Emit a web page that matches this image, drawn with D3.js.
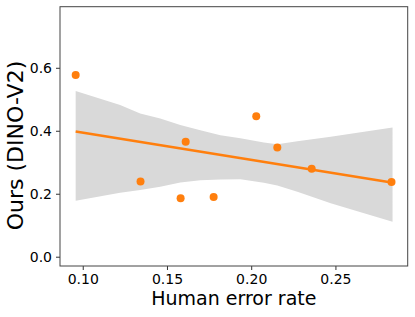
<!DOCTYPE html>
<html lang="en">
<head>
    <meta charset="UTF-8">
    <title>regplot</title>
    <script src="https://d3js.org/d3.v7.min.js"></script>
    <style>
        body { margin: 0; background: white; }
        svg { display: block; }
        text { font-family: "DejaVu Sans", sans-serif; fill: #000; }
    </style>
</head>
<body>
    <svg></svg>
    <script>
        // Data
        var errorRate = [0.0958, 0.1611, 0.2030, 0.2155, 0.1343, 0.1581, 0.1777, 0.2359, 0.2833];
        var oursScore = [0.577, 0.365, 0.446, 0.347, 0.239, 0.186, 0.190, 0.279, 0.237];

        // Fitted line ends and confidence band edges
        var fitX = [0.0958, 0.2833];
        var fitY = [0.398, 0.236];
        var bandX  = [0.0958, 0.1222, 0.1341, 0.1460, 0.1579, 0.1698, 0.1817, 0.1936, 0.2075, 0.2155, 0.2274, 0.2472, 0.2670, 0.2839];
        var bandHi = [0.526, 0.482, 0.455, 0.439, 0.418, 0.402, 0.386, 0.376, 0.363, 0.357, 0.367, 0.381, 0.397, 0.410];
        var bandLo = [0.178, 0.203, 0.212, 0.222, 0.236, 0.243, 0.245, 0.246, 0.235, 0.226, 0.206, 0.170, 0.138, 0.111];

        var xTicks = [0.10, 0.15, 0.20, 0.25];
        var yTicks = [0.0, 0.2, 0.4, 0.6];

        var width = 415, height = 317;
        var svg = d3.select("svg").attr("width", width).attr("height", height);

        // plot area box
        var pl = 60, pr = 407.7, pt = 6.7, pb = 266;
        var x = d3.scaleLinear().domain([0.0865, 0.2929]).range([pl, pr]);
        var y = d3.scaleLinear().domain([-0.0295, 0.794]).range([pb, pt]);
        var orange = "#ff7f0e";

        // Confidence band
        var band = bandX.map(function(v, i) { return {x: v, lo: bandLo[i], hi: bandHi[i]}; });
        svg.append("path")
            .datum(band)
            .attr("fill", "#d9d9d9")
            .attr("d", d3.area().x(d => x(d.x)).y0(d => y(d.lo)).y1(d => y(d.hi)));

        // Scatter points
        svg.append("g").selectAll("circle")
            .data(errorRate).enter().append("circle")
            .attr("cx", d => x(d))
            .attr("cy", (d, i) => y(oursScore[i]))
            .attr("r", 4)
            .attr("fill", orange);

        // Regression line
        svg.append("path")
            .datum(fitX.map((v, i) => [v, fitY[i]]))
            .attr("fill", "none")
            .attr("stroke", orange)
            .attr("stroke-width", 2.5)
            .attr("d", d3.line().x(d => x(d[0])).y(d => y(d[1])));

        // Axes
        var xAxis = svg.append("g")
            .attr("transform", "translate(0," + pb + ")")
            .call(d3.axisBottom(x).tickValues(xTicks).tickFormat(d3.format(".2f")).tickSizeOuter(0).tickSize(4).tickPadding(4));
        var yAxis = svg.append("g")
            .attr("transform", "translate(" + pl + ",0)")
            .call(d3.axisLeft(y).tickValues(yTicks).tickFormat(d3.format(".1f")).tickSizeOuter(0).tickSize(4).tickPadding(4));
        [xAxis, yAxis].forEach(function(a) {
            a.select(".domain").remove();
            a.selectAll(".tick line").attr("stroke", "#333");
            a.selectAll(".tick text").style("font-size", "14px").style("font-family", "DejaVu Sans");
        });

        // Frame
        svg.append("rect")
            .attr("x", pl).attr("y", pt)
            .attr("width", pr - pl).attr("height", pb - pt)
            .attr("fill", "none").attr("stroke", "#444").attr("stroke-width", 1);

        // Axis labels
        svg.append("text")
            .attr("x", (pl + pr) / 2).attr("y", 305)
            .attr("text-anchor", "middle")
            .style("font-size", "19px")
            .text("Human error rate");
        svg.append("text")
            .attr("transform", "translate(23,145.5) rotate(-90)")
            .attr("text-anchor", "middle")
            .style("font-size", "22px")
            .text("Ours (DINO-V2)");
    </script>
</body>
</html>
